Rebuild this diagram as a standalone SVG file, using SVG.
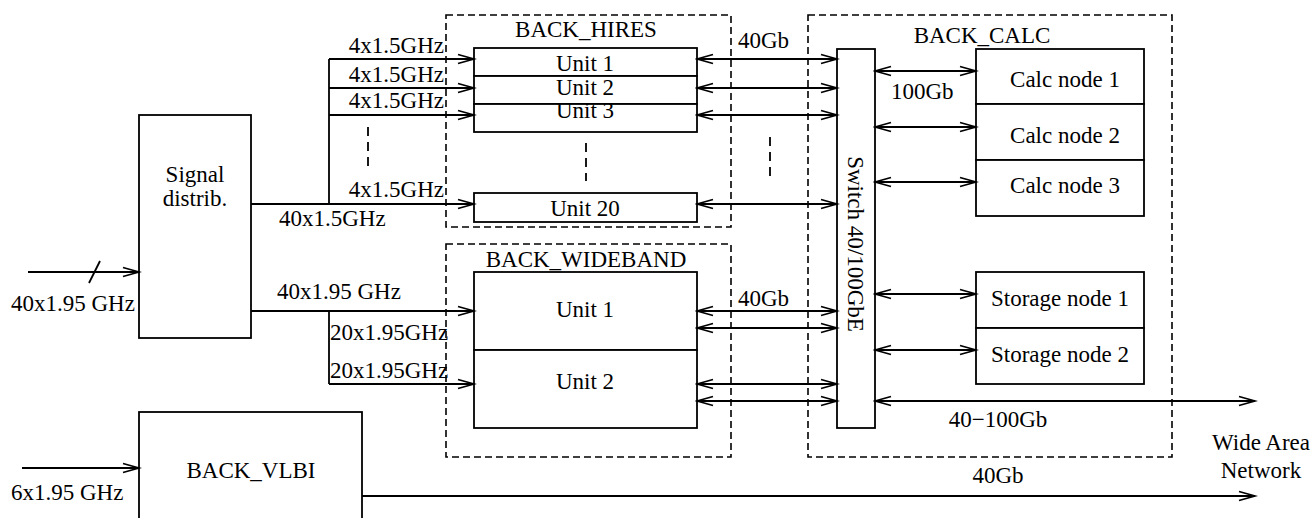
<svg xmlns="http://www.w3.org/2000/svg" width="1314" height="518" viewBox="0 0 1314 518">
<defs>
<marker id="ah" markerUnits="userSpaceOnUse" markerWidth="20" markerHeight="12" viewBox="-1 -6 19 12" refX="16" refY="0" orient="auto-start-reverse">
<path d="M0,-4.5 L16,0 L0,4.5" fill="none" stroke="#000" stroke-width="1.8"/>
</marker>
</defs>
<style>
text{font-family:"Liberation Serif","Times New Roman",serif;font-size:23px;fill:#000}
.box{fill:#fff;stroke:#000;stroke-width:1.8}
.grp{fill:none;stroke:#000;stroke-width:1.6;stroke-dasharray:7,4}
.ln{fill:none;stroke:#000;stroke-width:1.8}
.a{marker-end:url(#ah)}
.aa{marker-start:url(#ah);marker-end:url(#ah)}
.dash{stroke:#000;stroke-width:1.8;stroke-dasharray:9,6}
.m{text-anchor:middle}
.e{text-anchor:end}
</style>
<rect width="1314" height="518" fill="#fff"/>

<g id="back_hires">
<rect class="grp" x="446" y="15" width="285" height="212"/>
<text class="m" x="586" y="37">BACK_HIRES</text>
<line class="dash" x1="586" y1="143" x2="586" y2="181"/>
</g>
<g id="hires_unit1"><rect class="box" x="474" y="48" width="223" height="28"/><text class="m" x="585" y="71">Unit 1</text></g>
<g id="hires_unit2"><rect class="box" x="474" y="76" width="223" height="28"/><text class="m" x="585" y="95">Unit 2</text></g>
<g id="hires_unit3"><rect class="box" x="474" y="104" width="223" height="28"/><text class="m" x="585" y="118">Unit 3</text></g>
<g id="hires_unit20"><rect class="box" x="474" y="193" width="223" height="29"/><text class="m" x="585" y="216">Unit 20</text></g>

<g id="back_wideband">
<rect class="grp" x="446" y="244" width="285" height="213"/>
<text class="m" x="586" y="267">BACK_WIDEBAND</text>
</g>
<g id="wb_unit1"><rect class="box" x="474" y="272" width="223" height="78"/><text class="m" x="585" y="317">Unit 1</text></g>
<g id="wb_unit2"><rect class="box" x="474" y="350" width="223" height="78"/><text class="m" x="585" y="389">Unit 2</text></g>

<g id="back_calc">
<rect class="grp" x="808" y="15" width="364" height="442"/>
<text class="m" x="982" y="43">BACK_CALC</text>
</g>
<g id="switch"><rect class="box" x="837" y="49" width="38" height="379"/><text class="m" transform="translate(848,244) rotate(90)" x="0" y="0">Switch 40/100GbE</text></g>
<g id="calc1"><rect class="box" x="976" y="49" width="168" height="55"/><text class="m" x="1065" y="87">Calc node 1</text></g>
<g id="calc2"><rect class="box" x="976" y="104" width="168" height="56"/><text class="m" x="1065" y="143">Calc node 2</text></g>
<g id="calc3"><rect class="box" x="976" y="160" width="168" height="56"/><text class="m" x="1065" y="193">Calc node 3</text></g>
<g id="storage1"><rect class="box" x="976" y="272" width="168" height="56"/><text class="m" x="1060" y="306">Storage node 1</text></g>
<g id="storage2"><rect class="box" x="976" y="328" width="168" height="56"/><text class="m" x="1060" y="362">Storage node 2</text></g>

<g id="signal_distrib"><rect class="box" x="139" y="115" width="112" height="223"/><text class="m" x="195" y="182">Signal</text><text class="m" x="195" y="206">distrib.</text></g>
<g id="back_vlbi"><rect class="box" x="139" y="412" width="223" height="120"/><text class="m" x="251" y="478">BACK_VLBI</text></g>

<g id="connectors">
<line class="ln a" x1="28" y1="272" x2="139" y2="272"/>
<line class="ln" x1="89" y1="283" x2="100" y2="261"/>
<line class="ln a" x1="22" y1="468" x2="139" y2="468"/>

<line class="ln a" x1="251" y1="204" x2="474" y2="204"/>
<line class="ln" x1="329" y1="59" x2="329" y2="204"/>
<line class="ln a" x1="329" y1="59" x2="474" y2="59"/>
<line class="ln a" x1="329" y1="88" x2="474" y2="88"/>
<line class="ln a" x1="329" y1="115" x2="474" y2="115"/>
<line class="dash" x1="368" y1="127" x2="368" y2="166"/>

<line class="ln a" x1="251" y1="311" x2="474" y2="311"/>
<line class="ln" x1="329" y1="311" x2="329" y2="384"/>
<line class="ln a" x1="329" y1="384" x2="474" y2="384"/>

<line class="ln aa" x1="697" y1="59" x2="837" y2="59"/>
<line class="ln aa" x1="697" y1="88" x2="837" y2="88"/>
<line class="ln aa" x1="697" y1="115" x2="837" y2="115"/>
<line class="ln aa" x1="697" y1="204" x2="837" y2="204"/>
<line class="dash" x1="770" y1="137" x2="770" y2="176"/>
<line class="ln aa" x1="697" y1="311" x2="837" y2="311"/>
<line class="ln aa" x1="697" y1="328" x2="837" y2="328"/>
<line class="ln aa" x1="697" y1="384" x2="837" y2="384"/>
<line class="ln aa" x1="697" y1="401" x2="837" y2="401"/>

<line class="ln aa" x1="875" y1="71" x2="976" y2="71"/>
<line class="ln aa" x1="875" y1="127" x2="976" y2="127"/>
<line class="ln aa" x1="875" y1="182" x2="976" y2="182"/>
<line class="ln aa" x1="875" y1="294" x2="976" y2="294"/>
<line class="ln aa" x1="875" y1="350" x2="976" y2="350"/>
<line class="ln aa" x1="875" y1="401" x2="1255" y2="401"/>
<line class="ln a" x1="362" y1="496" x2="1255" y2="496"/>

<text x="11" y="311">40x1.95 GHz</text>
<text x="11" y="500">6x1.95 GHz</text>
<text class="e" x="444" y="53">4x1.5GHz</text>
<text class="e" x="444" y="82">4x1.5GHz</text>
<text class="e" x="444" y="108">4x1.5GHz</text>
<text class="e" x="444" y="197">4x1.5GHz</text>
<text x="279" y="226">40x1.5GHz</text>
<text x="277" y="299">40x1.95 GHz</text>
<text x="330" y="340">20x1.95GHz</text>
<text x="330" y="378">20x1.95GHz</text>
<text x="738" y="48">40Gb</text>
<text x="738" y="306">40Gb</text>
<text x="891" y="99">100Gb</text>
<text class="m" x="998" y="427">40−100Gb</text>
<text class="m" x="998" y="483">40Gb</text>
<text class="m" x="1261" y="450">Wide Area</text>
<text class="m" x="1261" y="478">Network</text>
</g>
</svg>
